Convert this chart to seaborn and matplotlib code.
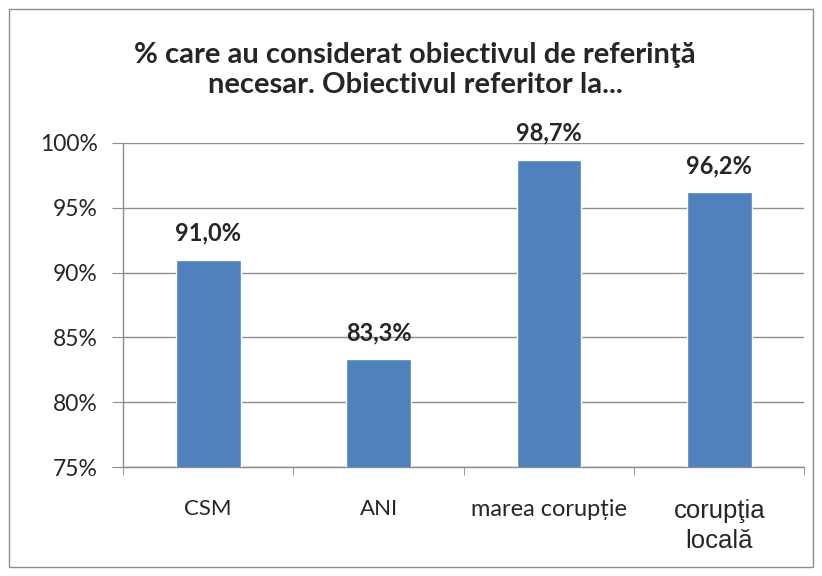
import matplotlib
matplotlib.use("Agg")
import matplotlib.pyplot as plt
import matplotlib.patches as patches
from matplotlib.ticker import FuncFormatter, FixedLocator
import seaborn as sns
import pandas as pd

sns.set_style("white")
plt.rcParams["font.family"] = ["Lato", "DejaVu Sans"]

# Date
categorii = ["CSM", "ANI", "marea corupție", "corupţia\nlocală"]
valori = [0.910, 0.833, 0.987, 0.962]
titlu = "% care au considerat obiectivul de referinţă\nnecesar. Obiectivul referitor la..."

df = pd.DataFrame({"categorie": categorii, "valoare": valori})

fig = plt.figure(figsize=(8.22, 5.76), dpi=100)
ax = fig.add_axes([0.1496, 0.189, 0.829, 0.563])

sns.barplot(data=df, x="categorie", y="valoare", color="#4F81BD",
            width=0.38, saturation=1, ax=ax, zorder=3)

ax.set_ylim(0.75, 1.0)
ax.set_yticks([0.75, 0.80, 0.85, 0.90, 0.95, 1.00])
ax.yaxis.set_major_formatter(FuncFormatter(lambda v, p: f"{v*100:.0f}%"))
ax.set_xlim(-0.5, len(categorii) - 0.5)
ax.grid(axis="y", color="#8c8c8c", linewidth=1, zorder=0)
ax.set_xlabel("")
ax.set_ylabel("")

for s in ["top", "right"]:
    ax.spines[s].set_visible(False)
for s in ["left", "bottom"]:
    ax.spines[s].set_color("#8c8c8c")
    ax.spines[s].set_linewidth(1)

ax.tick_params(axis="y", length=8, color="#8c8c8c", labelsize=16.5, pad=10, left=True)
ax.tick_params(axis="x", which="major", length=0, labelsize=16, pad=23)
ax.xaxis.set_minor_locator(FixedLocator([i - 0.5 for i in range(len(categorii) + 1)]))
ax.tick_params(axis="x", which="minor", length=6, color="#8c8c8c", bottom=True)

for lbl in ax.get_xticklabels():
    if "locală" in lbl.get_text():
        lbl.set_fontfamily(["Liberation Sans", "DejaVu Sans"])
        lbl.set_fontsize(18.5)
        lbl.set_linespacing(1.3)
    elif "marea" in lbl.get_text():
        lbl.set_fontsize(17)

# Etichete valori
for i, v in enumerate(valori):
    eticheta = f"{v*100:.1f}%".replace(".", ",")
    ax.annotate(eticheta, (i, v), xytext=(0, 19), textcoords="offset points",
                ha="center", va="center", fontsize=17, fontweight="bold")

fig.text(0.505, 1 - 70 / 576, titlu, ha="center", va="center",
         fontsize=21, fontweight="bold", linespacing=1.2)

# Chenar
fig.patches.append(patches.Rectangle((9 / 822, 9 / 576), 804 / 822, 558 / 576,
                                     transform=fig.transFigure, fill=False,
                                     edgecolor="#8c8c8c", linewidth=1))

fig.savefig("out.png", dpi=100, facecolor="white")
